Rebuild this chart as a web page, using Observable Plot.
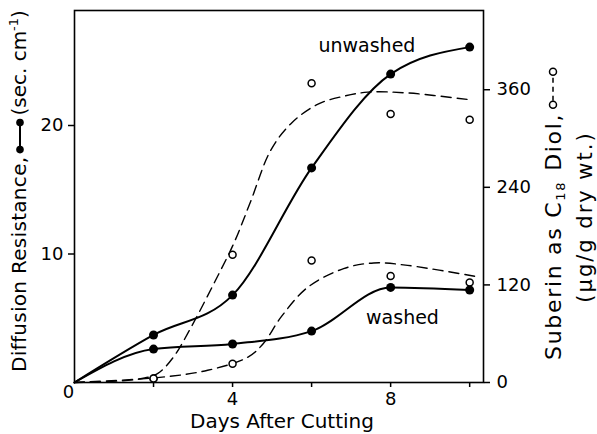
<!DOCTYPE html>
<html>
<head>
<meta charset="utf-8">
<script src="https://cdn.jsdelivr.net/npm/d3@7"></script>
<script src="https://cdn.jsdelivr.net/npm/@observablehq/plot@0.6"></script>
<style>
  html, body { margin: 0; padding: 0; background: #fff; }
  svg { font-family: "DejaVu Sans", sans-serif; }
</style>
</head>
<body>
<div id="chart"></div>
<script>
// ---- data ----
const days = [0, 2, 4, 6, 8, 10];
const resistanceUnwashed = [0, 3.7, 6.8, 16.7, 24.0, 26.1];
const resistanceWashed = [0, 2.6, 3.0, 4.0, 7.4, 7.2];

const suberinDays = [2, 4, 6, 8, 10];
const suberinUnwashed = [5, 157, 368, 330, 323];
const suberinWashed = [5, 23, 150, 131, 123];

// hand-drawn dashed fit curves
const fitUnwashedDays = [0, 1.6, 2.1, 2.5, 2.94, 3.52, 4.03, 4.46, 4.96, 5.47, 6.15, 6.81, 7.42, 8.43, 9.95];
const fitUnwashedSuberin = [0, 4, 11, 31, 67, 121, 171, 223, 285, 318, 342, 352, 357, 356, 348];
const fitWashedDays = [0, 2.1, 3.37, 4.38, 4.78, 5.22, 5.9, 6.81, 7.57, 8.43, 10.2];
const fitWashedSuberin = [0, 6, 15, 31, 48, 80, 117, 140, 147, 144, 130];

const xTicks = [2, 4, 6, 8, 10];
const xLabeledTicks = [4, 8];
const leftTicks = [10, 20];
const rightTicks = [0, 120, 240, 360];
const suberinPerUnit = 15.8; // right-axis units per left-axis unit

const curveLabels = [
  {day: 7.4, value: 26.2, text: "unwashed"},
  {day: 8.3, value: 5.0, text: "washed"}
];

// ---- tables built from the arrays ----
const solidUnwashed = days.map((d, i) => ({day: d, v: resistanceUnwashed[i]}));
const solidWashed = days.map((d, i) => ({day: d, v: resistanceWashed[i]}));
const dotsUnwashed = solidUnwashed.filter(d => d.day > 0);
const dotsWashed = solidWashed.filter(d => d.day > 0);
const openUnwashed = suberinDays.map((d, i) => ({day: d, s: suberinUnwashed[i]}));
const openWashed = suberinDays.map((d, i) => ({day: d, s: suberinWashed[i]}));
const fitU = fitUnwashedDays.map((d, i) => ({day: d, s: fitUnwashedSuberin[i]}));
const fitW = fitWashedDays.map((d, i) => ({day: d, s: fitWashedSuberin[i]}));
const toLeft = d => d.s / suberinPerUnit;

const chart = Plot.plot({
  width: 597,
  height: 434,
  marginLeft: 74,
  marginRight: 114,
  marginTop: 10,
  marginBottom: 52,
  style: {fontFamily: "DejaVu Sans, sans-serif", fontSize: "18px", color: "black", background: "white"},
  x: {domain: [0, 10.35]},
  y: {domain: [0, 28.95]},
  marks: [
    Plot.frame({stroke: "black", strokeWidth: 1.6}),
    Plot.axisX({ticks: xTicks, tickFormat: d => xLabeledTicks.includes(d) ? String(d) : "", tickSize: 5, tickPadding: 5, label: null, strokeWidth: 1.5}),
    Plot.axisY({ticks: leftTicks, tickSize: 6, tickPadding: 5, label: null, strokeWidth: 1.5}),
    Plot.axisY({anchor: "right", ticks: rightTicks.map(v => v / suberinPerUnit), tickFormat: d => String(Math.round(d * suberinPerUnit)), tickSize: 6, tickPadding: 7, label: null, strokeWidth: 1.5}),
    Plot.text([{day: 0, v: 0}], {x: "day", y: "v", text: () => "0", dx: -6, dy: 10, fontSize: 18}),
    Plot.line(fitU, {x: "day", y: toLeft, curve: "catmull-rom", stroke: "black", strokeWidth: 1.4, strokeDasharray: "10,6"}),
    Plot.line(fitW, {x: "day", y: toLeft, curve: "catmull-rom", stroke: "black", strokeWidth: 1.4, strokeDasharray: "10,6"}),
    Plot.line(solidUnwashed, {x: "day", y: "v", curve: "monotone-x", stroke: "black", strokeWidth: 2}),
    Plot.line(solidWashed, {x: "day", y: "v", curve: "monotone-x", stroke: "black", strokeWidth: 2}),
    Plot.dot(openUnwashed, {x: "day", y: toLeft, r: 3.5, fill: "white", stroke: "black", strokeWidth: 1.5}),
    Plot.dot(openWashed, {x: "day", y: toLeft, r: 3.5, fill: "white", stroke: "black", strokeWidth: 1.5}),
    Plot.dot(dotsUnwashed, {x: "day", y: "v", r: 4.5, fill: "black"}),
    Plot.dot(dotsWashed, {x: "day", y: "v", r: 4.5, fill: "black"}),
    Plot.text(curveLabels, {x: "day", y: "value", text: "text", fontSize: 19, textAnchor: "middle", lineAnchor: "middle"})
  ]
});

document.getElementById("chart").appendChild(chart);

// ---- axis titles with legend glyphs ----
const svg = d3.select(chart);
const ff = "DejaVu Sans, sans-serif";

// x title
svg.append("text").attr("x", 282).attr("y", 428).attr("text-anchor", "middle")
  .attr("font-size", 20).attr("font-family", ff).attr("fill", "black").text("Days After Cutting");

// left title
const gl = svg.append("g").attr("transform", "translate(26,372) rotate(-90)")
  .attr("font-size", 20).attr("font-family", ff).attr("fill", "black").attr("text-anchor", "start");
const t1 = gl.append("text").attr("text-anchor", "start").attr("letter-spacing", 0.3).text("Diffusion Resistance,");
const L1 = t1.node().getComputedTextLength();
const a0 = L1 + 7, a1 = a0 + 27;
gl.append("line").attr("x1", a0).attr("x2", a1).attr("y1", -6).attr("y2", -6)
  .attr("stroke", "black").attr("stroke-width", 2);
gl.append("circle").attr("cx", a0).attr("cy", -6).attr("r", 3.8).attr("fill", "black");
gl.append("circle").attr("cx", a1).attr("cy", -6).attr("r", 3.8).attr("fill", "black");
const t2 = gl.append("text").attr("text-anchor", "start").attr("x", a1 + 7);
t2.append("tspan").text("(sec. cm");
t2.append("tspan").attr("dy", -8).attr("font-size", 13).text("-1");
t2.append("tspan").attr("dy", 8).text(")");

// right title, line 1
const gr = svg.append("g").attr("transform", "translate(561,360) rotate(-90)")
  .attr("font-size", 22).attr("font-family", ff).attr("fill", "black").attr("text-anchor", "start");
const t3 = gr.append("text").attr("text-anchor", "start").attr("letter-spacing", 1.7);
t3.append("tspan").text("Suberin as C");
t3.append("tspan").attr("dy", 4).attr("font-size", 13).text("18");
t3.append("tspan").attr("dy", -4).attr("dx", 10).text("Diol,");
const L3 = t3.node().getComputedTextLength() + 10;
const b0 = L3 + 8, b1 = b0 + 33;
gr.append("line").attr("x1", b0 + 4).attr("x2", b1 - 4).attr("y1", -8).attr("y2", -8)
  .attr("stroke", "black").attr("stroke-width", 1.5).attr("stroke-dasharray", "5,4");
gr.append("circle").attr("cx", b0).attr("cy", -8).attr("r", 3.5).attr("fill", "white").attr("stroke", "black").attr("stroke-width", 1.5);
gr.append("circle").attr("cx", b1).attr("cy", -8).attr("r", 3.5).attr("fill", "white").attr("stroke", "black").attr("stroke-width", 1.5);

// right title, line 2
svg.append("text").attr("transform", "translate(592,217) rotate(-90)").attr("text-anchor", "middle")
  .attr("font-size", 21).attr("letter-spacing", 2).attr("font-family", ff).attr("fill", "black").text("(μg/g dry wt.)");
</script>
</body>
</html>
